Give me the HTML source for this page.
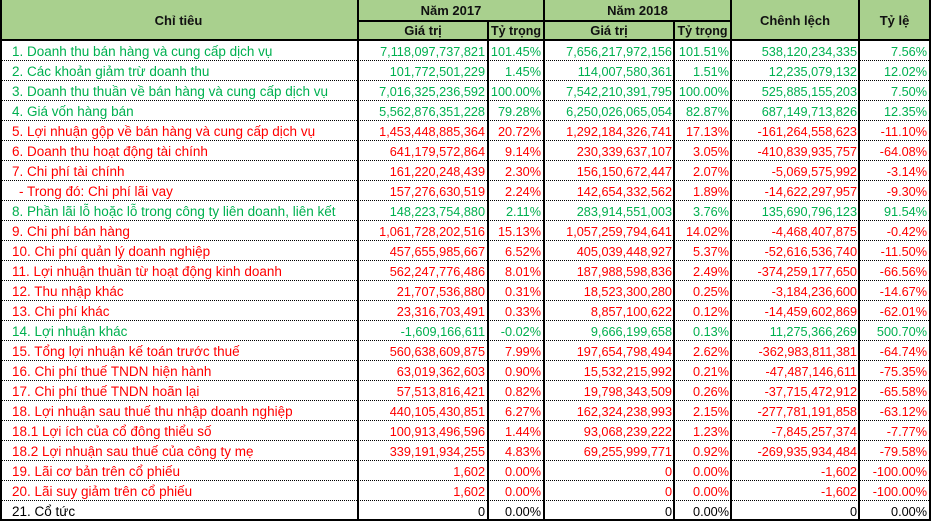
<!DOCTYPE html>
<html><head><meta charset="utf-8">
<style>
html,body{margin:0;padding:0;background:#fff}
#w{position:relative;width:931px;height:521px;overflow:hidden;font-family:"Liberation Sans",Arial,sans-serif;background:#fff}
.hd{position:absolute;left:0;top:0;width:931px;height:40px;background:#A9D08E}
.h{position:absolute;height:20px;line-height:20px;text-align:center;font-weight:bold;font-size:13px;color:#111;white-space:nowrap}
.v{position:absolute;width:2px;background:#000}
.hl{position:absolute;height:2px;background:#000}
.dl{position:absolute;left:0;width:931px;height:0;border-top:1px dotted #000}
.r{position:absolute;left:0;width:931px;height:20px}
.r span{position:absolute;top:1.5px;line-height:20px;white-space:nowrap;font-size:12.7px}
.r .a{left:12px;font-size:13.5px}
.r .b{right:446px}.r .c{right:390px}.r .d{right:259px}.r .e{right:202px}.r .f{right:74px}.r .g{right:4px}
.gr{color:#00B050}.rd{color:#FF0000}.bk{color:#000}
</style></head><body>
<div id="w">
<div class="hd"></div>
<div class="h" style="left:0;width:357px;top:10.5px">Chỉ tiêu</div>
<div class="h" style="left:359px;width:184px;top:0.5px">Năm 2017</div>
<div class="h" style="left:359px;width:128px;top:20.5px">Giá trị</div>
<div class="h" style="left:489px;width:54px;top:20.5px;font-size:12.5px">Tỷ trọng</div>
<div class="h" style="left:545px;width:185px;top:0.5px">Năm 2018</div>
<div class="h" style="left:545px;width:128px;top:20.5px">Giá trị</div>
<div class="h" style="left:675px;width:55px;top:20.5px;font-size:12.5px">Tỷ trọng</div>
<div class="h" style="left:732px;width:126px;top:10.5px">Chênh lệch</div>
<div class="h" style="left:860px;width:69px;top:10.5px">Tỷ lệ</div>

<div class="r gr" style="top:40px"><span class="a">1. Doanh thu bán hàng và cung cấp dịch vụ</span><span class="b">7,118,097,737,821</span><span class="c">101.45%</span><span class="d">7,656,217,972,156</span><span class="e">101.51%</span><span class="f">538,120,234,335</span><span class="g">7.56%</span></div>
<div class="r gr" style="top:60px"><span class="a">2. Các khoản giảm trừ doanh thu</span><span class="b">101,772,501,229</span><span class="c">1.45%</span><span class="d">114,007,580,361</span><span class="e">1.51%</span><span class="f">12,235,079,132</span><span class="g">12.02%</span></div>
<div class="r gr" style="top:80px"><span class="a">3. Doanh thu thuần về bán hàng và cung cấp dịch vụ</span><span class="b">7,016,325,236,592</span><span class="c">100.00%</span><span class="d">7,542,210,391,795</span><span class="e">100.00%</span><span class="f">525,885,155,203</span><span class="g">7.50%</span></div>
<div class="r gr" style="top:100px"><span class="a">4. Giá vốn hàng bán</span><span class="b">5,562,876,351,228</span><span class="c">79.28%</span><span class="d">6,250,026,065,054</span><span class="e">82.87%</span><span class="f">687,149,713,826</span><span class="g">12.35%</span></div>
<div class="r rd" style="top:120px"><span class="a">5. Lợi nhuận gộp về bán hàng và cung cấp dịch vụ</span><span class="b">1,453,448,885,364</span><span class="c">20.72%</span><span class="d">1,292,184,326,741</span><span class="e">17.13%</span><span class="f">-161,264,558,623</span><span class="g">-11.10%</span></div>
<div class="r rd" style="top:140px"><span class="a">6. Doanh thu hoạt động tài chính</span><span class="b">641,179,572,864</span><span class="c">9.14%</span><span class="d">230,339,637,107</span><span class="e">3.05%</span><span class="f">-410,839,935,757</span><span class="g">-64.08%</span></div>
<div class="r rd" style="top:160px"><span class="a">7. Chi phí tài chính</span><span class="b">161,220,248,439</span><span class="c">2.30%</span><span class="d">156,150,672,447</span><span class="e">2.07%</span><span class="f">-5,069,575,992</span><span class="g">-3.14%</span></div>
<div class="r rd" style="top:180px"><span class="a" style="left:19px">- Trong đó: Chi phí lãi vay</span><span class="b">157,276,630,519</span><span class="c">2.24%</span><span class="d">142,654,332,562</span><span class="e">1.89%</span><span class="f">-14,622,297,957</span><span class="g">-9.30%</span></div>
<div class="r gr" style="top:200px"><span class="a">8. Phần lãi lỗ hoặc lỗ trong công ty liên doanh, liên kết</span><span class="b">148,223,754,880</span><span class="c">2.11%</span><span class="d">283,914,551,003</span><span class="e">3.76%</span><span class="f">135,690,796,123</span><span class="g">91.54%</span></div>
<div class="r rd" style="top:220px"><span class="a">9. Chi phí bán hàng</span><span class="b">1,061,728,202,516</span><span class="c">15.13%</span><span class="d">1,057,259,794,641</span><span class="e">14.02%</span><span class="f">-4,468,407,875</span><span class="g">-0.42%</span></div>
<div class="r rd" style="top:240px"><span class="a">10. Chi phí quản lý doanh nghiệp</span><span class="b">457,655,985,667</span><span class="c">6.52%</span><span class="d">405,039,448,927</span><span class="e">5.37%</span><span class="f">-52,616,536,740</span><span class="g">-11.50%</span></div>
<div class="r rd" style="top:260px"><span class="a">11. Lợi nhuận thuần từ hoạt động kinh doanh</span><span class="b">562,247,776,486</span><span class="c">8.01%</span><span class="d">187,988,598,836</span><span class="e">2.49%</span><span class="f">-374,259,177,650</span><span class="g">-66.56%</span></div>
<div class="r rd" style="top:280px"><span class="a">12. Thu nhập khác</span><span class="b">21,707,536,880</span><span class="c">0.31%</span><span class="d">18,523,300,280</span><span class="e">0.25%</span><span class="f">-3,184,236,600</span><span class="g">-14.67%</span></div>
<div class="r rd" style="top:300px"><span class="a">13. Chi phí khác</span><span class="b">23,316,703,491</span><span class="c">0.33%</span><span class="d">8,857,100,622</span><span class="e">0.12%</span><span class="f">-14,459,602,869</span><span class="g">-62.01%</span></div>
<div class="r gr" style="top:320px"><span class="a">14. Lợi nhuận khác</span><span class="b">-1,609,166,611</span><span class="c">-0.02%</span><span class="d">9,666,199,658</span><span class="e">0.13%</span><span class="f">11,275,366,269</span><span class="g">500.70%</span></div>
<div class="r rd" style="top:340px"><span class="a">15. Tổng lợi nhuận kế toán trước thuế</span><span class="b">560,638,609,875</span><span class="c">7.99%</span><span class="d">197,654,798,494</span><span class="e">2.62%</span><span class="f">-362,983,811,381</span><span class="g">-64.74%</span></div>
<div class="r rd" style="top:360px"><span class="a">16. Chi phí thuế TNDN hiện hành</span><span class="b">63,019,362,603</span><span class="c">0.90%</span><span class="d">15,532,215,992</span><span class="e">0.21%</span><span class="f">-47,487,146,611</span><span class="g">-75.35%</span></div>
<div class="r rd" style="top:380px"><span class="a">17. Chi phí thuế TNDN hoãn lại</span><span class="b">57,513,816,421</span><span class="c">0.82%</span><span class="d">19,798,343,509</span><span class="e">0.26%</span><span class="f">-37,715,472,912</span><span class="g">-65.58%</span></div>
<div class="r rd" style="top:400px"><span class="a">18. Lợi nhuận sau thuế thu nhập doanh nghiệp</span><span class="b">440,105,430,851</span><span class="c">6.27%</span><span class="d">162,324,238,993</span><span class="e">2.15%</span><span class="f">-277,781,191,858</span><span class="g">-63.12%</span></div>
<div class="r rd" style="top:420px"><span class="a">18.1 Lợi ích của cổ đông thiểu số</span><span class="b">100,913,496,596</span><span class="c">1.44%</span><span class="d">93,068,239,222</span><span class="e">1.23%</span><span class="f">-7,845,257,374</span><span class="g">-7.77%</span></div>
<div class="r rd" style="top:440px"><span class="a">18.2 Lợi nhuận sau thuế của công ty mẹ</span><span class="b">339,191,934,255</span><span class="c">4.83%</span><span class="d">69,255,999,771</span><span class="e">0.92%</span><span class="f">-269,935,934,484</span><span class="g">-79.58%</span></div>
<div class="r rd" style="top:460px"><span class="a">19. Lãi cơ bản trên cổ phiếu</span><span class="b">1,602</span><span class="c">0.00%</span><span class="d">0</span><span class="e">0.00%</span><span class="f">-1,602</span><span class="g">-100.00%</span></div>
<div class="r rd" style="top:480px"><span class="a">20. Lãi suy giảm trên cổ phiếu</span><span class="b">1,602</span><span class="c">0.00%</span><span class="d">0</span><span class="e">0.00%</span><span class="f">-1,602</span><span class="g">-100.00%</span></div>
<div class="r bk" style="top:500px"><span class="a">21. Cổ tức</span><span class="b">0</span><span class="c">0.00%</span><span class="d">0</span><span class="e">0.00%</span><span class="f">0</span><span class="g">0.00%</span></div>

<div class="dl" style="top:60px"></div><div class="dl" style="top:80px"></div><div class="dl" style="top:100px"></div><div class="dl" style="top:120px"></div>
<div class="dl" style="top:140px"></div><div class="dl" style="top:160px"></div><div class="dl" style="top:180px"></div><div class="dl" style="top:200px"></div>
<div class="dl" style="top:220px"></div><div class="dl" style="top:240px"></div><div class="dl" style="top:260px"></div><div class="dl" style="top:280px"></div>
<div class="dl" style="top:300px"></div><div class="dl" style="top:320px"></div><div class="dl" style="top:340px"></div><div class="dl" style="top:360px"></div>
<div class="dl" style="top:380px"></div><div class="dl" style="top:400px"></div><div class="dl" style="top:420px"></div><div class="dl" style="top:440px"></div>
<div class="dl" style="top:460px"></div><div class="dl" style="top:480px"></div><div class="dl" style="top:500px"></div>

<div class="hl" style="left:357px;width:375px;top:20px"></div>
<div class="hl" style="left:0;width:931px;top:39px"></div>
<div class="hl" style="left:0;width:931px;top:519px"></div>

<div class="v" style="left:0;top:0;height:521px;width:1.5px"></div>
<div class="v" style="left:357px;top:0;height:521px"></div>
<div class="v" style="left:487px;top:20px;height:501px"></div>
<div class="v" style="left:543px;top:0;height:521px"></div>
<div class="v" style="left:673px;top:20px;height:501px"></div>
<div class="v" style="left:730px;top:0;height:521px"></div>
<div class="v" style="left:858px;top:0;height:521px"></div>
<div class="v" style="left:929px;top:0;height:521px"></div>
</div>
</body></html>
